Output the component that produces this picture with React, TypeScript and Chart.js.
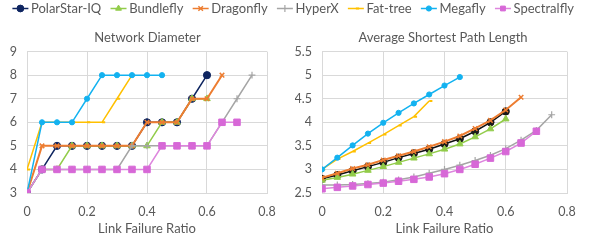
import React, { useEffect, useRef } from "react";
import { Chart, registerables } from "chart.js";
import { drawPoint } from "chart.js/helpers";

Chart.register(...registerables);

const ratios = [0, 0.05, 0.1, 0.15, 0.2, 0.25, 0.3, 0.35, 0.4, 0.45, 0.5, 0.55, 0.6, 0.65, 0.7, 0.75];

const seriesNames = ["PolarStar-IQ", "Bundlefly", "Dragonfly", "HyperX", "Fat-tree", "Megafly", "Spectralfly"];

// Network Diameter
const polarStarDiam = [3, 4, 5, 5, 5, 5, 5, 5, 6, 6, 6, 7, 8];
const bundleflyDiam = [3, 4, 4, 5, 5, 5, 5, 5, 5, 6, 6, 7, 7];
const dragonflyDiam = [3, 5, 5, 5, 5, 5, 5, 5, 6, 6, 6, 7, 7, 8];
const hyperxDiam = [3, 4, 4, 4, 4, 4, 4, 5, 5, 5, 5, 5, 5, 6, 7, 8];
const fatTreeDiam = [4, 6, 6, 6, 6, 6, 7, 8];
const megaflyDiam = [3, 6, 6, 6, 7, 8, 8, 8, 8, 8];
const spectralflyDiam = [3, 4, 4, 4, 4, 4, 4, 4, 4, 5, 5, 5, 5, 6, 6];

// Average Shortest Path Length
const polarStarAspl = [2.8, 2.88, 2.97, 3.06, 3.15, 3.25, 3.34, 3.43, 3.54, 3.65, 3.81, 4.0, 4.23];
const bundleflyAspl = [2.77, 2.83, 2.9, 2.98, 3.06, 3.15, 3.24, 3.33, 3.43, 3.54, 3.69, 3.86, 4.07];
const dragonflyAspl = [2.82, 2.92, 3.02, 3.1, 3.2, 3.29, 3.38, 3.48, 3.59, 3.71, 3.87, 4.04, 4.26, 4.53];
const hyperxAspl = [2.67, 2.67, 2.68, 2.7, 2.73, 2.78, 2.84, 2.92, 3.0, 3.09, 3.19, 3.3, 3.44, 3.62, 3.83, 4.16];
const fatTreeAspl = [3.0, 3.22, 3.38, 3.56, 3.74, 3.93, 4.12, 4.45];
const megaflyAspl = [3.0, 3.25, 3.51, 3.76, 3.99, 4.2, 4.4, 4.59, 4.78, 4.96];
const spectralflyAspl = [2.59, 2.62, 2.65, 2.68, 2.71, 2.75, 2.79, 2.84, 2.91, 3.0, 3.11, 3.24, 3.38, 3.56, 3.81];

const diameterSeries = [polarStarDiam, bundleflyDiam, dragonflyDiam, hyperxDiam, fatTreeDiam, megaflyDiam, spectralflyDiam];
const asplSeries = [polarStarAspl, bundleflyAspl, dragonflyAspl, hyperxAspl, fatTreeAspl, megaflyAspl, spectralflyAspl];

const xTicks = { min: 0, max: 0.8, step: 0.2 };
const diamTicks = { min: 3, max: 9, step: 1 };
const asplTicks = { min: 2.5, max: 5.5, step: 0.5 };

// styles
const lineColors = ["#0E2560", "#92CC4A", "#ED7D31", "#A5A5A5", "#FFC000", "#13B2F0", "#DD86DD"];
const asplLineColors = ["#111111", "#92CC4A", "#ED7D31", "#A5A5A5", "#FFC000", "#13B2F0", "#DD86DD"];
const markerColors = ["#0E2560", "#92CC4A", "#ED7D31", "#A5A5A5", "#FFC000", "#13B2F0", "#D768D7"];
const asplMarkerColors = ["#1A1A1A", "#92CC4A", "#ED7D31", "#A5A5A5", "#FFC000", "#13B2F0", "#D768D7"];
const pointStyles = ["circle", "triangle", "crossRot", "cross", "dash", "circle", "rect"];
const pointRadii = [3.6, 3.8, 3.2, 3.4, 3.2, 2.6, 4.6];
const pointBorders = [1, 1, 1.5, 1.2, 2, 1, 1];
const lineWidths = [1.5, 1.5, 2, 1.5, 1.5, 1.5, 1.5];

const FONT = "Lato, 'Noto Sans', sans-serif";
const TEXT = "#595959";
const GRID = "#D9D9D9";

const fmt = (v: any) => `${Number((+v).toFixed(2))}`;

function buildDatasets(series: number[][], lc: string[], mc: string[]) {
  return series.map((vals, i) => ({
    label: seriesNames[i],
    data: vals.map((v, j) => ({ x: ratios[j], y: v })),
    borderColor: lc[i],
    backgroundColor: mc[i],
    pointBackgroundColor: mc[i],
    pointBorderColor: mc[i],
    pointStyle: pointStyles[i] as any,
    pointRadius: pointRadii[i],
    pointBorderWidth: pointBorders[i],
    borderWidth: lineWidths[i],
    tension: 0,
    order: seriesNames.length - i,
  }));
}

function chartConfig(title: string, series: number[][], lc: string[], mc: string[], yt: { min: number; max: number; step: number }, rightPad: number): any {
  return {
    type: "line",
    data: { datasets: buildDatasets(series, lc, mc) },
    options: {
      animation: false,
      responsive: false,
      events: [],
      layout: { padding: 0 },
      plugins: {
        legend: { display: false },
        tooltip: { enabled: false },
        title: {
          display: true,
          text: title,
          color: TEXT,
          font: { family: FONT, size: 13, weight: "normal" },
          padding: { top: 6, bottom: 6 },
        },
      },
      scales: {
        x: {
          type: "linear",
          min: xTicks.min,
          max: xTicks.max,
          afterFit: (s: any) => { s.height = 49; },
          ticks: { stepSize: xTicks.step, color: TEXT, font: { family: FONT, size: 12.5 }, padding: 11, callback: fmt },
          grid: { color: GRID, drawTicks: false },
          border: { color: GRID },
          title: {
            display: true,
            text: "Link Failure Ratio",
            color: TEXT,
            font: { family: FONT, size: 13 },
            padding: { top: 0, bottom: 5 },
          },
        },
        y: {
          type: "linear",
          min: yt.min,
          max: yt.max,
          afterFit: (s: any) => { s.width = 27; },
          ticks: { stepSize: yt.step, color: TEXT, font: { family: FONT, size: 12.5 }, padding: 10, callback: fmt },
          grid: { color: GRID, drawTicks: false },
          border: { color: GRID },
        },
        pad: {
          type: "linear",
          position: "right",
          display: true,
          afterFit: (s: any) => { s.width = rightPad; },
          ticks: { display: false },
          grid: { display: false, drawTicks: false },
          border: { display: false },
        },
      },
    },
  };
}

const legendPlugin = {
  id: "customLegend",
  afterDraw(chart: any) {
    const ctx = chart.ctx as CanvasRenderingContext2D;
    ctx.save();
    ctx.font = `13px ${FONT}`;
    ctx.textBaseline = "middle";
    const lineW = 16;
    const textGap = 2.6;
    const startX = 12.4;
    const endX = 574;
    const widths = seriesNames.map((n) => ctx.measureText(n).width);
    const used = widths.reduce((a, w) => a + lineW + textGap + w, 0);
    const gap = (endX - startX - used) / (seriesNames.length - 1);
    let x = startX;
    const y = 8.5;
    seriesNames.forEach((name, i) => {
      ctx.strokeStyle = lineColors[i];
      ctx.lineWidth = 1.5;
      ctx.beginPath();
      ctx.moveTo(x, y);
      ctx.lineTo(x + lineW, y);
      ctx.stroke();
      ctx.fillStyle = markerColors[i];
      ctx.strokeStyle = markerColors[i];
      ctx.lineWidth = pointBorders[i];
      drawPoint(ctx, { pointStyle: pointStyles[i] as any, radius: Math.min(pointRadii[i], 3.4), borderWidth: pointBorders[i], rotation: 0 }, x + lineW / 2, y);
      ctx.fillStyle = TEXT;
      ctx.fillText(name, x + lineW + textGap, y + 0.5);
      x += lineW + textGap + widths[i] + gap;
    });
    ctx.restore();
  },
};

export default function App() {
  const legendRef = useRef<HTMLCanvasElement>(null);
  const leftRef = useRef<HTMLCanvasElement>(null);
  const rightRef = useRef<HTMLCanvasElement>(null);

  useEffect(() => {
    const legend = new Chart(legendRef.current as HTMLCanvasElement, {
      type: "line",
      data: { datasets: [] },
      options: {
        animation: false,
        responsive: false,
        events: [],
        plugins: { legend: { display: false }, tooltip: { enabled: false } },
        scales: { x: { display: false }, y: { display: false } },
      },
      plugins: [legendPlugin],
    } as any);
    const left = new Chart(leftRef.current as HTMLCanvasElement, chartConfig("Network Diameter", diameterSeries, lineColors, markerColors, diamTicks, 28));
    const right = new Chart(rightRef.current as HTMLCanvasElement, chartConfig("Average Shortest Path Length", asplSeries, asplLineColors, asplMarkerColors, asplTicks, 24));
    return () => {
      legend.destroy();
      left.destroy();
      right.destroy();
    };
  }, []);

  return (
    <div style={{ position: "fixed", left: 0, top: 0, width: 591, height: 242, background: "#fff" }}>
      <canvas ref={legendRef} width={591} height={24} style={{ position: "absolute", left: 0, top: 0, width: 591, height: 24 }} />
      <canvas ref={leftRef} width={295} height={218} style={{ position: "absolute", left: 0, top: 24, width: 295, height: 218 }} />
      <canvas ref={rightRef} width={296} height={218} style={{ position: "absolute", left: 295, top: 24, width: 296, height: 218 }} />
    </div>
  );
}
